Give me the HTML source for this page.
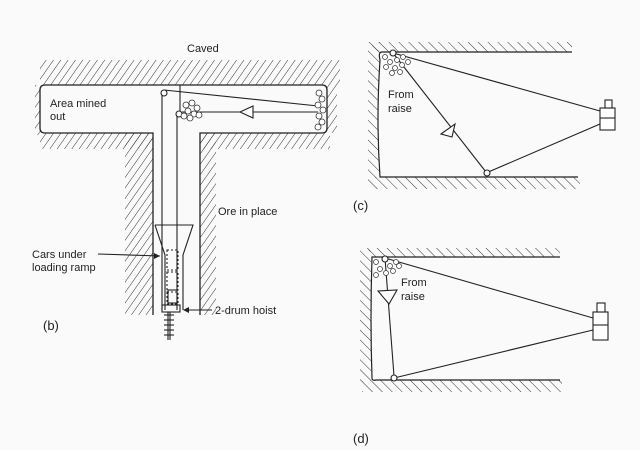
<!DOCTYPE html>
<html><head><style>body{margin:0;background:#fff}svg{display:block}text{font-family:"Liberation Sans",sans-serif;font-size:11px;fill:#222}</style></head><body>
<svg width="640" height="450" viewBox="0 0 640 450">
<defs>
<pattern id="h" width="6" height="6" patternUnits="userSpaceOnUse" patternTransform="rotate(35)"><line x1="0" y1="0" x2="0" y2="6" stroke="#333" stroke-width="1"/></pattern>
<pattern id="h2" width="7" height="7" patternUnits="userSpaceOnUse" patternTransform="rotate(-45)"><line x1="0" y1="0" x2="0" y2="7" stroke="#333" stroke-width="1"/></pattern>
</defs>
<rect width="640" height="450" fill="#fafafa"/>
<!-- (b) hatching -->
<rect x="40" y="60" width="300" height="25" fill="url(#h)"/>
<rect x="35" y="85" width="8" height="50" fill="url(#h)"/>
<rect x="40" y="133" width="113" height="16" fill="url(#h)"/>
<rect x="125" y="133" width="28" height="182" fill="url(#h)"/>
<rect x="200" y="133" width="130" height="16" fill="url(#h)"/>
<rect x="200" y="133" width="16" height="182" fill="url(#h)"/>
<rect x="327" y="85" width="10" height="48" fill="url(#h)"/>
<path d="M153 315 V133 H45 Q40 133 40 128 V90 Q40 85 45 85 H322 Q327 85 327 90 V128 Q327 133 322 133 H200 V315" fill="#fafafa" stroke="#222" stroke-width="1.3"/>
<!-- cables -->
<g stroke="#222" stroke-width="1.1" fill="none">
<line x1="162" y1="93" x2="162" y2="310"/>
<line x1="180" y1="85" x2="180" y2="111"/>
<line x1="177" y1="115" x2="177" y2="310"/>
<line x1="164" y1="90" x2="318" y2="106"/>
<line x1="182" y1="112" x2="318" y2="112"/>
<circle cx="164" cy="93" r="3" fill="#fff"/>
<circle cx="179" cy="114" r="3" fill="#fff"/>
<path d="M240 112 L253 106 L253 118 Z" fill="#fff"/>
<path d="M155 225 H193 L183 255 V310 M155 225 L165 255 V310"/>
<rect x="167" y="250" width="11" height="20" stroke-dasharray="2 2"/>
<rect x="167" y="272" width="11" height="18" stroke-dasharray="2 2"/>
<rect x="167" y="292" width="11" height="12" stroke-dasharray="2 2"/>
<rect x="168" y="290" width="9" height="13"/>
<rect x="162" y="305" width="18" height="7"/>
<line x1="168" y1="312" x2="168" y2="340"/>
<line x1="170" y1="312" x2="170" y2="340"/>
<line x1="164" y1="315" x2="174" y2="315"/><line x1="164" y1="320" x2="174" y2="320"/><line x1="164" y1="325" x2="174" y2="325"/><line x1="164" y1="330" x2="174" y2="330"/><line x1="164" y1="335" x2="174" y2="335"/>
<line x1="98" y1="254" x2="160" y2="256"/>
<line x1="212" y1="310" x2="185" y2="310"/>
</g>
<path d="M160 256 L154 253 L154 259Z M183 310 L189 307 L189 313Z" fill="#222"/>
<g fill="#fff" stroke="#333" stroke-width="0.8">
<circle cx="186" cy="105" r="3"/><circle cx="192" cy="103" r="3"/><circle cx="197" cy="108" r="3"/><circle cx="188" cy="111" r="3"/><circle cx="194" cy="114" r="3"/><circle cx="199" cy="115" r="3"/><circle cx="190" cy="118" r="3"/><circle cx="184" cy="116" r="3"/>
<circle cx="319" cy="93" r="3"/><circle cx="322" cy="99" r="3"/><circle cx="318" cy="105" r="3"/><circle cx="323" cy="110" r="3"/><circle cx="319" cy="116" r="3"/><circle cx="322" cy="122" r="3"/><circle cx="318" cy="127" r="3"/>
</g>
<text x="187" y="52">Caved</text>
<text x="50" y="107">Area mined</text><text x="50" y="120">out</text>
<text x="218" y="215">Ore in place</text>
<text x="32" y="258">Cars under</text><text x="32" y="271">loading ramp</text>
<text x="215" y="314">2-drum hoist</text>
<text x="43" y="330" style="font-size:13px">(b)</text>
<!-- (c) -->
<rect x="372" y="42" width="200" height="10" fill="url(#h2)"/>
<rect x="368" y="42" width="12" height="136" fill="url(#h2)"/>
<rect x="368" y="177" width="212" height="12" fill="url(#h2)"/>
<path d="M572 52 H382 Q378 52 380 60 Q376 120 380 177 H578" fill="#fafafa" stroke="#222" stroke-width="1.2"/>
<g stroke="#222" stroke-width="1.1" fill="none">
<line x1="393" y1="53" x2="600" y2="111"/>
<line x1="393" y1="53" x2="486" y2="172"/>
<line x1="486" y1="173" x2="600" y2="124"/>
<circle cx="393" cy="53" r="3" fill="#fff"/>
<circle cx="487" cy="173" r="3" fill="#fff"/>
<path d="M441 134 L455 124 L452 137Z" fill="#fff"/>
<rect x="600" y="108" width="15" height="22" fill="#fff"/><line x1="600" y1="118" x2="615" y2="118"/>
<rect x="605" y="100" width="7" height="8" fill="#fff"/>
</g>
<g fill="#fff" stroke="#333" stroke-width="0.7"><circle cx="385" cy="57" r="2.5"/><circle cx="390" cy="62" r="2.5"/><circle cx="397" cy="60" r="2.5"/><circle cx="403" cy="57" r="2.5"/><circle cx="386" cy="67" r="2.5"/><circle cx="395" cy="68" r="2.5"/><circle cx="402" cy="65" r="2.5"/><circle cx="408" cy="62" r="2.5"/><circle cx="392" cy="73" r="2.5"/><circle cx="400" cy="72" r="2.5"/></g>
<text x="388" y="98">From</text><text x="388" y="112">raise</text>
<text x="353" y="210" style="font-size:13px">(c)</text>
<!-- (d) -->
<rect x="368" y="248" width="192" height="9" fill="url(#h2)"/>
<rect x="360" y="248" width="11" height="134" fill="url(#h2)"/>
<rect x="362" y="380" width="200" height="12" fill="url(#h2)"/>
<path d="M560 257 H372 Q370 320 372 378 Q372 381 376 380 H560" fill="#fafafa" stroke="#222" stroke-width="1.2"/>
<g stroke="#222" stroke-width="1.1" fill="none">
<line x1="385" y1="258" x2="593" y2="318"/>
<line x1="385" y1="258" x2="394" y2="376"/>
<line x1="394" y1="378" x2="593" y2="330"/>
<circle cx="385" cy="259" r="3" fill="#fff"/>
<circle cx="394" cy="378" r="3" fill="#fff"/>
<path d="M378 291 L397 290 L389 304Z" fill="#fff"/>
<rect x="593" y="312" width="15" height="28" fill="#fff"/><line x1="593" y1="325" x2="608" y2="325"/>
<rect x="597" y="303" width="8" height="9" fill="#fff"/>
</g>
<g fill="#fff" stroke="#333" stroke-width="0.7"><circle cx="376" cy="262" r="2.5"/><circle cx="380" cy="269" r="2.5"/><circle cx="390" cy="266" r="2.5"/><circle cx="396" cy="262" r="2.5"/><circle cx="376" cy="275" r="2.5"/><circle cx="386" cy="273" r="2.5"/><circle cx="393" cy="271" r="2.5"/><circle cx="399" cy="266" r="2.5"/></g>
<text x="401" y="286">From</text><text x="401" y="300">raise</text>
<text x="353" y="443" style="font-size:13px">(d)</text>
</svg>
</body></html>
